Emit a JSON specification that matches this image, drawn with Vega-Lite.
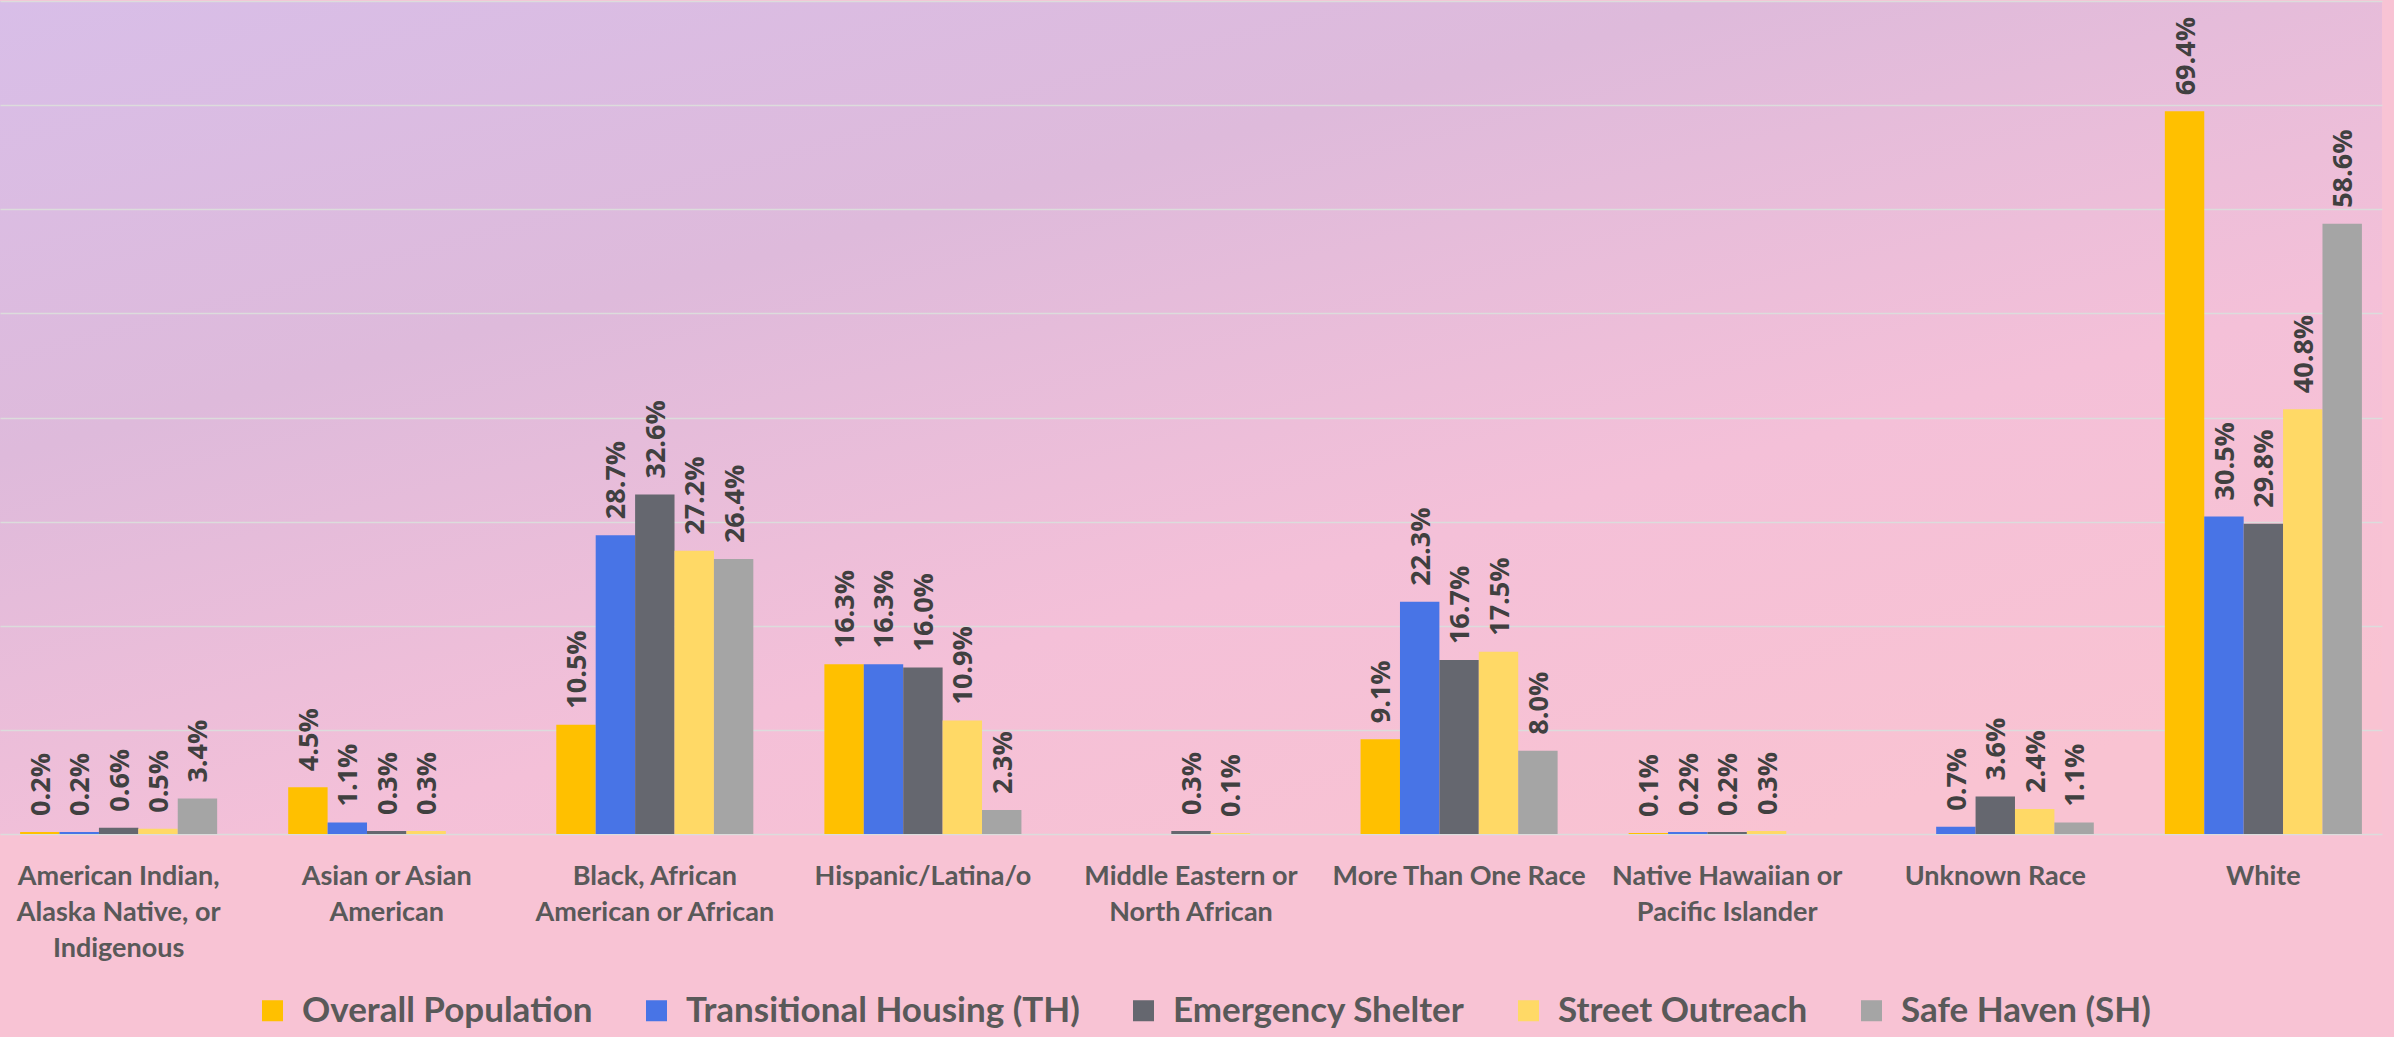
{
  "$schema": "https://vega.github.io/schema/vega-lite/v6.json",
  "width": 2382,
  "height": 833,
  "autosize": {"type": "none"},
  "padding": {"left": 0, "top": 1, "right": 12, "bottom": 203},
  "background": "#F8C3D4",
  "config": {
    "view": {
      "stroke": null,
      "fill": {
        "gradient": "linear",
        "x1": 0, "y1": 0, "x2": 0.75, "y2": 1,
        "stops": [
          {"offset": 0, "color": "#D8BEE8"},
          {"offset": 0.35, "color": "#DEBADB"},
          {"offset": 0.7, "color": "#F4C0D8"},
          {"offset": 1, "color": "#F9C3D2"}
        ]
      }
    }
  },
  "data": {
    "values": [
      {"race": "American Indian, Alaska Native, or Indigenous", "series": "Overall Population", "pct": 0.002},
      {"race": "American Indian, Alaska Native, or Indigenous", "series": "Transitional Housing (TH)", "pct": 0.002},
      {"race": "American Indian, Alaska Native, or Indigenous", "series": "Emergency Shelter", "pct": 0.006},
      {"race": "American Indian, Alaska Native, or Indigenous", "series": "Street Outreach", "pct": 0.005},
      {"race": "American Indian, Alaska Native, or Indigenous", "series": "Safe Haven (SH)", "pct": 0.034},
      {"race": "Asian or Asian American", "series": "Overall Population", "pct": 0.045},
      {"race": "Asian or Asian American", "series": "Transitional Housing (TH)", "pct": 0.011},
      {"race": "Asian or Asian American", "series": "Emergency Shelter", "pct": 0.003},
      {"race": "Asian or Asian American", "series": "Street Outreach", "pct": 0.003},
      {"race": "Black, African American or African", "series": "Overall Population", "pct": 0.105},
      {"race": "Black, African American or African", "series": "Transitional Housing (TH)", "pct": 0.287},
      {"race": "Black, African American or African", "series": "Emergency Shelter", "pct": 0.326},
      {"race": "Black, African American or African", "series": "Street Outreach", "pct": 0.272},
      {"race": "Black, African American or African", "series": "Safe Haven (SH)", "pct": 0.264},
      {"race": "Hispanic/Latina/o", "series": "Overall Population", "pct": 0.163},
      {"race": "Hispanic/Latina/o", "series": "Transitional Housing (TH)", "pct": 0.163},
      {"race": "Hispanic/Latina/o", "series": "Emergency Shelter", "pct": 0.160},
      {"race": "Hispanic/Latina/o", "series": "Street Outreach", "pct": 0.109},
      {"race": "Hispanic/Latina/o", "series": "Safe Haven (SH)", "pct": 0.023},
      {"race": "Middle Eastern or North African", "series": "Emergency Shelter", "pct": 0.003},
      {"race": "Middle Eastern or North African", "series": "Street Outreach", "pct": 0.001},
      {"race": "More Than One Race", "series": "Overall Population", "pct": 0.091},
      {"race": "More Than One Race", "series": "Transitional Housing (TH)", "pct": 0.223},
      {"race": "More Than One Race", "series": "Emergency Shelter", "pct": 0.167},
      {"race": "More Than One Race", "series": "Street Outreach", "pct": 0.175},
      {"race": "More Than One Race", "series": "Safe Haven (SH)", "pct": 0.080},
      {"race": "Native Hawaiian or Pacific Islander", "series": "Overall Population", "pct": 0.001},
      {"race": "Native Hawaiian or Pacific Islander", "series": "Transitional Housing (TH)", "pct": 0.002},
      {"race": "Native Hawaiian or Pacific Islander", "series": "Emergency Shelter", "pct": 0.002},
      {"race": "Native Hawaiian or Pacific Islander", "series": "Street Outreach", "pct": 0.003},
      {"race": "Unknown Race", "series": "Transitional Housing (TH)", "pct": 0.007},
      {"race": "Unknown Race", "series": "Emergency Shelter", "pct": 0.036},
      {"race": "Unknown Race", "series": "Street Outreach", "pct": 0.024},
      {"race": "Unknown Race", "series": "Safe Haven (SH)", "pct": 0.011},
      {"race": "White", "series": "Overall Population", "pct": 0.694},
      {"race": "White", "series": "Transitional Housing (TH)", "pct": 0.305},
      {"race": "White", "series": "Emergency Shelter", "pct": 0.298},
      {"race": "White", "series": "Street Outreach", "pct": 0.408},
      {"race": "White", "series": "Safe Haven (SH)", "pct": 0.586}
    ]
  },
  "encoding": {
    "x": {
      "field": "race",
      "type": "nominal",
      "sort": ["American Indian, Alaska Native, or Indigenous", "Asian or Asian American", "Black, African American or African", "Hispanic/Latina/o", "Middle Eastern or North African", "More Than One Race", "Native Hawaiian or Pacific Islander", "Unknown Race", "White"],
      "scale": {"paddingInner": 0.265, "paddingOuter": 0.075},
      "axis": {
        "title": null,
        "labelAngle": 0,
        "ticks": false,
        "domain": false,
        "labelFont": "Lato",
        "labelFontWeight": "bold",
        "labelFontSize": 27,
        "labelColor": "#595959",
        "labelPadding": 29,
        "labelBaseline": "top",
        "labelLineHeight": 36,
        "labelLimit": 400,
        "labelExpr": "datum.value == 'American Indian, Alaska Native, or Indigenous' ? ['American Indian,', 'Alaska Native, or', 'Indigenous'] : datum.value == 'Asian or Asian American' ? ['Asian or Asian', 'American'] : datum.value == 'Black, African American or African' ? ['Black, African', 'American or African'] : datum.value == 'Middle Eastern or North African' ? ['Middle Eastern or', 'North African'] : datum.value == 'Native Hawaiian or Pacific Islander' ? ['Native Hawaiian or', 'Pacific Islander'] : datum.value"
      }
    },
    "xOffset": {
      "field": "series",
      "type": "nominal",
      "sort": ["Overall Population", "Transitional Housing (TH)", "Emergency Shelter", "Street Outreach", "Safe Haven (SH)"],
      "scale": {"paddingInner": 0, "paddingOuter": 0}
    },
    "y": {
      "field": "pct",
      "type": "quantitative",
      "scale": {"domain": [0, 0.8], "nice": false},
      "axis": {
        "title": null,
        "labels": false,
        "ticks": false,
        "domain": false,
        "grid": true,
        "gridColor": "#DCDCDC",
        "gridWidth": 1.5,
        "values": [0, 0.1, 0.2, 0.3, 0.4, 0.5, 0.6, 0.7, 0.8]
      }
    }
  },
  "layer": [
    {
      "mark": {"type": "bar"},
      "encoding": {
        "color": {
          "field": "series",
          "type": "nominal",
          "sort": ["Overall Population", "Transitional Housing (TH)", "Emergency Shelter", "Street Outreach", "Safe Haven (SH)"],
          "scale": {
            "domain": ["Overall Population", "Transitional Housing (TH)", "Emergency Shelter", "Street Outreach", "Safe Haven (SH)"],
            "range": ["#FFC000", "#4874E6", "#65676F", "#FFD966", "#A5A5A5"]
          },
          "legend": {
            "orient": "none",
            "legendX": 255,
            "legendY": 992,
            "direction": "horizontal",
            "title": null,
            "symbolType": "square",
            "symbolSize": 441,
            "symbolStrokeWidth": 0,
            "labelFont": "Lato",
            "labelFontSize": 35,
            "labelFontWeight": "bold",
            "labelColor": "#595959",
            "labelOffset": 12,
            "columnPadding": 46,
            "labelLimit": 600
          }
        }
      }
    },
    {
      "mark": {
        "type": "text",
        "angle": -90,
        "align": "left",
        "baseline": "middle",
        "dx": 16,
        "dy": 2,
        "font": "Open Sans",
        "fontWeight": "bold",
        "fontSize": 27,
        "color": "#404040"
      },
      "encoding": {
        "text": {"field": "pct", "type": "quantitative", "format": ".1%"}
      }
    }
  ]
}
